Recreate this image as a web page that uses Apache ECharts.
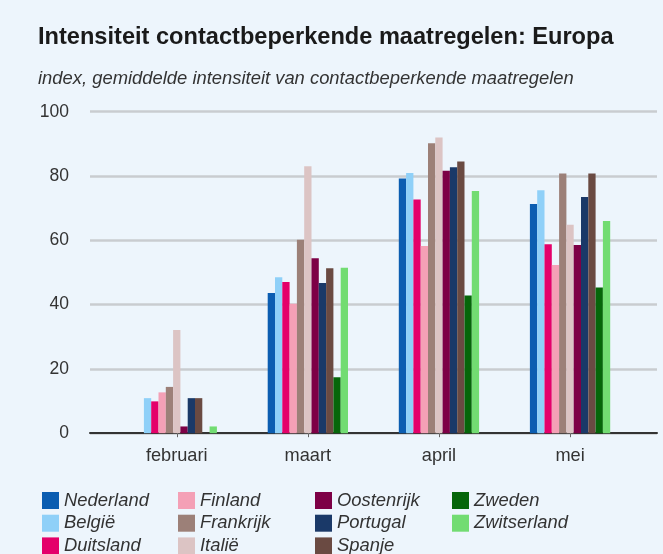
<!DOCTYPE html>
<html>
<head>
<meta charset="utf-8">
<script src="https://cdn.jsdelivr.net/npm/echarts@6/dist/echarts.min.js"></script>
<style>
html,body{margin:0;padding:0;background:#edf5fc;}
#c{width:663px;height:554px;}
</style>
</head>
<body>
<div id="c"></div>
<script>
var categories = ['februari', 'maart', 'april', 'mei'];
var yTicks = [0, 20, 40, 60, 80, 100];

var nederland   = [0, 43.6, 79.2, 71.3];
var belgie      = [10.9, 48.5, 80.9, 75.6];
var duitsland   = [9.9, 47.0, 72.7, 58.8];
var finland     = [12.7, 40.3, 58.2, 52.3];
var frankrijk   = [14.4, 60.2, 90.2, 80.8];
var italie      = [32.1, 83.0, 92.0, 64.8];
var oostenrijk  = [2.1, 54.4, 81.6, 58.5];
var portugal    = [10.9, 46.7, 82.7, 73.5];
var spanje      = [10.9, 51.3, 84.5, 80.8];
var zweden      = [0, 17.4, 42.8, 45.3];
var zwitserland = [2.1, 51.5, 75.3, 66.0];

var seriesNames = ['Nederland','België','Duitsland','Finland','Frankrijk','Italië','Oostenrijk','Portugal','Spanje','Zweden','Zwitserland'];
var seriesData = [nederland, belgie, duitsland, finland, frankrijk, italie, oostenrijk, portugal, spanje, zweden, zwitserland];
var colors = ['#0b5db1','#8fd0f8','#e4006a','#f4a0b6','#9c8078','#dcc4c4','#7d0046','#1a3968','#6a4a42','#06660a','#72dc72'];

var font = '"Liberation Sans", Arial, sans-serif';

var series = seriesNames.map(function(n, i){
  return {
    name: n, type: 'bar', xAxisIndex: 1, yAxisIndex: 1,
    data: seriesData[i], barWidth: 7.3, barGap: '0%',
    itemStyle: {color: colors[i]}, animation: false
  };
});

function legendCol(names, left){
  return {
    data: names, orient: 'vertical', left: left, top: 491.5, height: 80,
    padding: 0, itemWidth: 17, itemHeight: 17, itemGap: 4.7, icon: 'rect',
    textStyle: {fontFamily: font, fontSize: 18.4, fontStyle: 'italic', color: '#333'},
    selectedMode: false
  };
}

var chart = echarts.init(document.getElementById('c'), null, {renderer: 'canvas'});
chart.setOption({
  backgroundColor: '#edf5fc',
  animation: false,
  color: colors,
  title: [
    {text: 'Intensiteit contactbeperkende maatregelen: Europa', left: 38, top: 25, padding: 0,
     textStyle: {fontFamily: font, fontSize: 23.6, fontWeight: 'bold', color: '#1a1a1a'}},
    {text: 'index, gemiddelde intensiteit van contactbeperkende maatregelen', left: 38, top: 70, padding: 0,
     textStyle: {fontFamily: font, fontSize: 18.4, fontWeight: 'normal', fontStyle: 'italic', color: '#333'}}
  ],
  legend: [
    legendCol(['Nederland','België','Duitsland'], 42),
    legendCol(['Finland','Frankrijk','Italië'], 178),
    legendCol(['Oostenrijk','Portugal','Spanje'], 315),
    legendCol(['Zweden','Zwitserland'], 452)
  ],
  grid: [
    {left: 90, right: 6, top: 111.7, bottom: 120.8},
    {left: 111.2, right: 27.4, top: 111.7, bottom: 120.8}
  ],
  xAxis: [
    {type: 'value', gridIndex: 0, min: 0, max: 1, axisLabel: {show: false}, axisTick: {show: false},
     splitLine: {show: false}, axisLine: {show: true, onZero: false, lineStyle: {color: '#333', width: 2}}},
    {type: 'category', gridIndex: 1, data: categories, axisLine: {show: false},
     axisTick: {show: true, alignWithLabel: true, length: 4, lineStyle: {color: '#666', width: 1}},
     axisLabel: {fontFamily: font, fontSize: 18.2, color: '#333', margin: 14}}
  ],
  yAxis: [
    {type: 'value', gridIndex: 0, min: yTicks[0], max: yTicks[yTicks.length-1], interval: 20,
     axisLine: {show: false}, axisTick: {show: false},
     axisLabel: {fontFamily: font, fontSize: 17.5, color: '#333', margin: 21},
     splitLine: {show: true, lineStyle: {color: '#c9ccd0', width: 2.5}}},
    {type: 'value', gridIndex: 1, min: 0, max: 100, interval: 20, show: false, splitLine: {show: false}}
  ],
  series: series
});
</script>
</body>
</html>
